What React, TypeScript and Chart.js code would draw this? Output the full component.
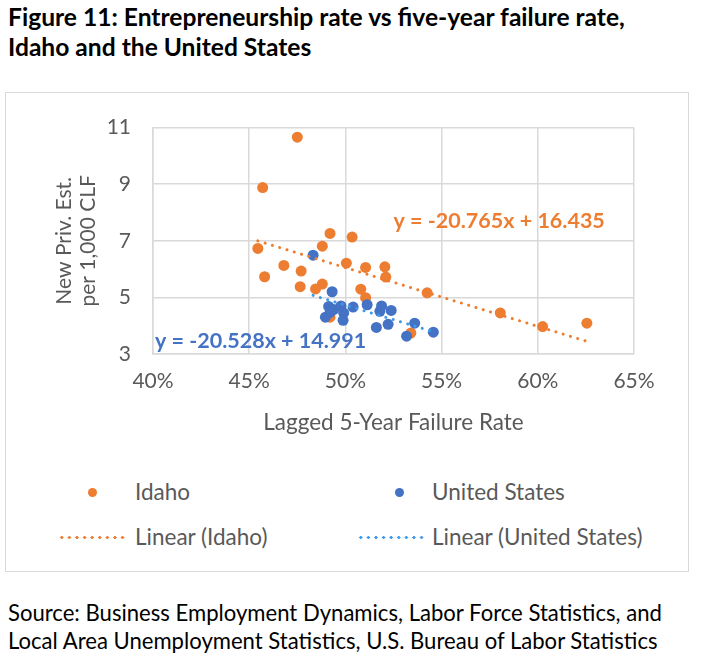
import { useEffect, useRef } from 'react'
import { Chart, registerables } from 'chart.js'

Chart.register(...registerables)

// failure rate (%) and new private establishments per 1,000 CLF
const idahoFailure = [
  47.5, 45.7, 49.2, 50.35, 45.45, 48.8, 46.8, 47.7, 50.05, 51.05, 52.05, 52.1,
  45.8, 47.65, 48.8, 48.45, 50.8, 51.05, 49.2, 54.25, 58.05, 60.25, 62.55, 53.4,
]
const idahoNew = [
  10.66, 8.88, 7.26, 7.13, 6.73, 6.81, 6.13, 5.93, 6.21, 6.06, 6.08, 5.72,
  5.73, 5.38, 5.47, 5.3, 5.29, 4.99, 4.3, 5.16, 4.45, 3.97, 4.09, 3.74,
]
const usFailure = [
  48.32, 49.31, 49.13, 48.96, 49.39, 49.2, 49.77, 49.91, 49.88, 50.4, 51.13,
  51.61, 51.88, 51.79, 52.38, 52.22, 53.6, 53.18, 54.57,
]
const usNew = [
  6.49, 5.2, 4.68, 4.3, 4.57, 4.47, 4.7, 4.45, 4.19, 4.66, 4.74, 3.94, 4.7,
  4.51, 4.54, 4.05, 4.09, 3.63, 3.77,
]

// trendline coefficients (x as a fraction)
const idahoSlope = -20.765
const idahoIntercept = 16.435
const usSlope = -20.528
const usIntercept = 14.991

const xTicks = [40, 45, 50, 55, 60, 65]
const yTicks = [3, 5, 7, 9, 11]

const ORANGE = '#ED7D31'
const BLUE = '#4472C4'
const LIGHT_BLUE = '#3E9BEA'
const GRID = '#d9d9d9'
const TEXT = '#595959'
const FONT = 'Lato, "Open Sans", sans-serif'

const toPoints = (xs: number[], ys: number[]) => xs.map((x, i) => ({ x, y: ys[i] }))

const trend = (xs: number[], slope: number, intercept: number) => {
  const lo = Math.min(...xs)
  const hi = Math.max(...xs)
  return [lo, hi].map((x) => ({ x, y: (slope * x) / 100 + intercept }))
}

const equationLabels = {
  id: 'equationLabels',
  afterDatasetsDraw(chart: Chart) {
    const { ctx, scales } = chart
    const x = scales.x
    const y = scales.y
    ctx.save()
    ctx.font = `bold 21.5px ${FONT}`
    ctx.textAlign = 'left'
    ctx.textBaseline = 'middle'
    ctx.fillStyle = ORANGE
    ctx.fillText('y = -20.765x + 16.435', x.getPixelForValue(52.5), y.getPixelForValue(7.7))
    ctx.fillStyle = BLUE
    ctx.fillText('y = -20.528x + 14.991', x.getPixelForValue(40.1), y.getPixelForValue(3.45))
    ctx.restore()
  },
}

function ScatterChart() {
  const canvasRef = useRef<HTMLCanvasElement>(null)

  useEffect(() => {
    const canvas = canvasRef.current
    if (!canvas) return

    const chart = new Chart(canvas, {
      type: 'scatter',
      data: {
        datasets: [
          {
            label: 'Linear (Idaho)',
            data: trend(idahoFailure, idahoSlope, idahoIntercept),
            showLine: true,
            borderColor: ORANGE,
            borderWidth: 3,
            borderDash: [0.1, 7.5],
            borderCapStyle: 'round',
            pointRadius: 0,
            order: 0,
          },
          {
            label: 'Linear (United States)',
            data: trend(usFailure, usSlope, usIntercept),
            showLine: true,
            borderColor: LIGHT_BLUE,
            borderWidth: 3,
            borderDash: [0.1, 7.5],
            borderCapStyle: 'round',
            pointRadius: 0,
            order: 1,
          },
          {
            label: 'United States',
            data: toPoints(usFailure, usNew),
            backgroundColor: BLUE,
            borderColor: BLUE,
            pointRadius: 5.5,
            borderWidth: 0,
            order: 2,
          },
          {
            label: 'Idaho',
            data: toPoints(idahoFailure, idahoNew),
            backgroundColor: ORANGE,
            borderColor: ORANGE,
            pointRadius: 5.5,
            borderWidth: 0,
            order: 3,
          },
        ],
      },
      options: {
        responsive: true,
        maintainAspectRatio: false,
        animation: false,
        events: [],
        layout: { padding: { top: 28, right: 54, bottom: 0, left: 0 } },
        plugins: { legend: { display: false }, tooltip: { enabled: false } },
        scales: {
          x: {
            type: 'linear',
            min: 40,
            max: 65,
            afterBuildTicks: (scale) => {
              scale.ticks = xTicks.map((value) => ({ value }))
            },
            afterFit: (scale) => {
              scale.height = 109
            },
            grid: { color: GRID, lineWidth: 1.5, drawTicks: false },
            border: { color: GRID, width: 1.5 },
            ticks: {
              padding: 15,
              color: TEXT,
              font: { family: FONT, size: 21 },
              callback: (v) => `${v}%`,
            },
            title: {
              display: true,
              text: 'Lagged 5-Year Failure Rate',
              color: TEXT,
              font: { family: FONT, size: 22.5 },
              padding: { top: 0, bottom: 27 },
            },
          },
          y: {
            type: 'linear',
            min: 3,
            max: 11,
            afterBuildTicks: (scale) => {
              scale.ticks = yTicks.map((value) => ({ value }))
            },
            afterFit: (scale) => {
              scale.width = 147
            },
            grid: { color: GRID, lineWidth: 1.5, drawTicks: false },
            border: { color: GRID, width: 1.5 },
            ticks: {
              padding: 22,
              color: TEXT,
              font: { family: FONT, size: 21 },
            },
            title: {
              display: true,
              text: ['New Priv. Est.', 'per 1,000 CLF'],
              color: TEXT,
              font: { family: FONT, size: 21, lineHeight: 1.15 },
              padding: { top: 46, bottom: 0 },
            },
          },
        },
      },
      plugins: [equationLabels],
    })

    return () => chart.destroy()
  }, [])

  return (
    <div style={{ position: 'absolute', left: 6, top: 93, width: 682, height: 370 }}>
      <canvas ref={canvasRef} />
    </div>
  )
}

function Dot({ color, left, top }: { color: string; left: number; top: number }) {
  return (
    <div
      style={{
        position: 'absolute',
        left,
        top,
        width: 9,
        height: 9,
        borderRadius: '50%',
        background: color,
      }}
    />
  )
}

function DottedLine({ color, left, top }: { color: string; left: number; top: number }) {
  return (
    <div
      style={{
        position: 'absolute',
        left,
        top,
        width: 68,
        height: 3,
        backgroundImage: `radial-gradient(circle, ${color} 1.4px, transparent 1.6px)`,
        backgroundSize: '7.6px 3px',
      }}
    />
  )
}

const legendText: React.CSSProperties = {
  position: 'absolute',
  fontFamily: FONT,
  fontSize: 22.5,
  color: TEXT,
  lineHeight: '26px',
}

export default function App() {
  return (
    <div
      style={{
        position: 'absolute',
        left: 0,
        top: 0,
        width: 701,
        height: 662,
        background: 'white',
        fontFamily: FONT,
      }}
    >
      <div
        style={{
          position: 'absolute',
          left: 8,
          top: 2,
          fontWeight: 'bold',
          fontSize: 24.6,
          lineHeight: '30px',
          color: '#000',
          whiteSpace: 'nowrap',
        }}
      >
        Figure 11: Entrepreneurship rate vs five-year failure rate,
        <br />
        Idaho and the United States
      </div>

      <div
        style={{
          position: 'absolute',
          left: 5,
          top: 92,
          width: 682,
          height: 478,
          border: `1px solid ${GRID}`,
        }}
      />

      <ScatterChart />

      <Dot color={ORANGE} left={88} top={488} />
      <div style={{ ...legendText, left: 135, top: 479 }}>Idaho</div>
      <Dot color={BLUE} left={395} top={488} />
      <div style={{ ...legendText, left: 432, top: 479 }}>United States</div>

      <DottedLine color={ORANGE} left={58} top={536} />
      <div style={{ ...legendText, left: 135, top: 524 }}>Linear (Idaho)</div>
      <DottedLine color={LIGHT_BLUE} left={357} top={536} />
      <div style={{ ...legendText, left: 432, top: 524 }}>Linear (United States)</div>

      <div
        style={{
          position: 'absolute',
          left: 8,
          top: 599,
          fontSize: 22.1,
          lineHeight: '28px',
          color: '#000',
          whiteSpace: 'nowrap',
        }}
      >
        Source: Business Employment Dynamics, Labor Force Statistics, and
        <br />
        Local Area Unemployment Statistics, U.S. Bureau of Labor Statistics
      </div>
    </div>
  )
}
